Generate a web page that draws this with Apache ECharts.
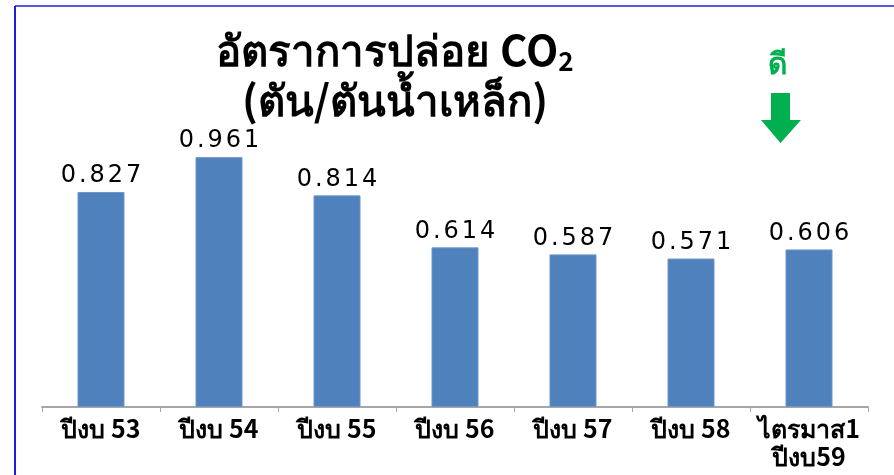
<!DOCTYPE html>
<html lang="th">
<head>
<meta charset="UTF-8">
<title>CO2</title>
<style>
  html, body { margin: 0; padding: 0; background: #fff; }
  #chart1 { width: 894px; height: 475px; }
</style>
</head>
<body>
<div id="chart1"></div>
<script src="https://cdn.jsdelivr.net/npm/echarts@6/dist/echarts.min.js"></script>
<script>
var categories = ['ปีงบ 53', 'ปีงบ 54', 'ปีงบ 55', 'ปีงบ 56', 'ปีงบ 57', 'ปีงบ 58', 'ไตรมาส1\nปีงบ59'];
var co2Rate = [0.827, 0.961, 0.814, 0.614, 0.587, 0.571, 0.606];

var thaiFont = '"Noto Sans CJK SC", "DejaVu Sans", sans-serif';

// spread the digits a little, like the wide font of the original
function spaced(v) {
    return v.toFixed(3).split('').map(function (c) { return '{d|' + c + '}'; }).join('');
}

var myChart1 = echarts.init(document.getElementById('chart1'));
myChart1.setOption({
    backgroundColor: '#fff',
    animation: false,
    title: {
        text: '{t|อัตราการปล่อย CO}{s|2}\n{t|(ตัน/ตันน้ำเหล็ก)}',
        left: 390,
        top: 20,
        textAlign: 'center',
        textStyle: {
            rich: {
                t: { fontSize: 42, fontWeight: 'bold', color: '#000', fontFamily: thaiFont, lineHeight: 50 },
                s: { fontSize: 26, fontWeight: 'bold', color: '#000', fontFamily: thaiFont, padding: [22, 0, 0, 0] }
            }
        }
    },
    grid: { left: 42, right: 26, top: 95, bottom: 68 },
    xAxis: {
        type: 'category',
        data: categories,
        axisLine: { lineStyle: { color: '#a6a6a6', width: 2 } },
        axisTick: { show: true, alignWithLabel: false, length: 5, lineStyle: { color: '#a6a6a6' } },
        axisLabel: {
            color: '#000',
            fontSize: 25,
            fontWeight: 'bold',
            fontFamily: thaiFont,
            lineHeight: 28,
            margin: 7,
            interval: 0
        }
    },
    yAxis: {
        type: 'value',
        min: 0,
        max: 1.2,
        show: false,
        splitLine: { show: false }
    },
    series: [{
        type: 'bar',
        data: co2Rate,
        barWidth: 47,
        itemStyle: { color: '#4f81bd', borderColor: '#6f95c8', borderWidth: 1 },
        label: {
            show: true,
            position: 'top',
            distance: 4,
            formatter: function (p) { return spaced(p.value); },
            rich: {
                d: { color: '#000', fontSize: 24, fontFamily: '"DejaVu Sans", Verdana, sans-serif', padding: [0, 1.5, 0, 1.5] }
            }
        }
    }],
    graphic: [
        { type: 'line', shape: { x1: 15, y1: 6, x2: 894, y2: 6 }, style: { stroke: '#5a5ae0', lineWidth: 2 } },
        { type: 'line', shape: { x1: 15, y1: 6, x2: 15, y2: 475 }, style: { stroke: '#1e1ed2', lineWidth: 2 } },
        { type: 'text', left: 768, top: 48, style: { text: 'ดี', fill: '#00b050', font: 'bold 30px ' + thaiFont } },
        { type: 'polygon', shape: { points: [[771, 93], [790, 93], [790, 120], [801, 120], [780.5, 143], [761, 120], [771, 120]] }, style: { fill: '#00b050' } }
    ]
});
</script>
</body>
</html>
